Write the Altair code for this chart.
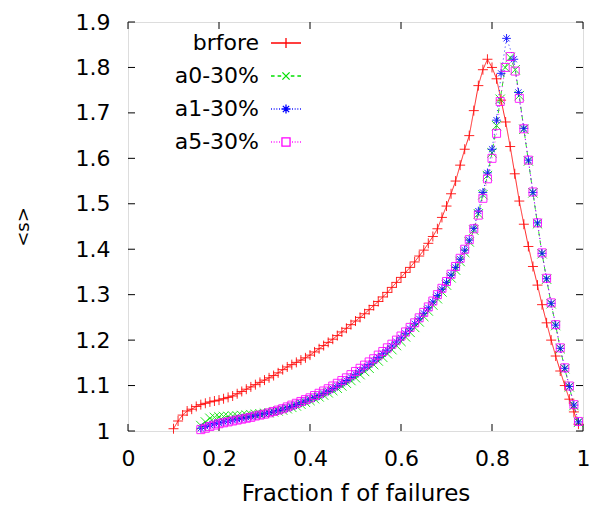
import altair as alt
import pandas as pd

# ---------------- data ----------------
series_names = ["brfore", "a0-30%", "a1-30%", "a5-30%"]

red_f = [0.10, 0.11, 0.12, 0.13, 0.14, 0.15, 0.16, 0.17, 0.18, 0.19,
         0.20, 0.21, 0.22, 0.23, 0.24, 0.25, 0.26, 0.27, 0.28, 0.29,
         0.30, 0.31, 0.32, 0.33, 0.34, 0.35, 0.36, 0.37, 0.38, 0.39,
         0.40, 0.41, 0.42, 0.43, 0.44, 0.45, 0.46, 0.47, 0.48, 0.49,
         0.50, 0.51, 0.52, 0.53, 0.54, 0.55, 0.56, 0.57, 0.58, 0.59,
         0.60, 0.61, 0.62, 0.63, 0.64, 0.65, 0.66, 0.67, 0.68, 0.69,
         0.70, 0.71, 0.72, 0.73, 0.74, 0.75, 0.76, 0.77, 0.78, 0.79,
         0.80, 0.81, 0.82, 0.83, 0.84, 0.85, 0.86, 0.87, 0.88, 0.89,
         0.90, 0.91, 0.92, 0.93, 0.94, 0.95, 0.96, 0.97, 0.98, 0.99]
red_s = [1.005, 1.022, 1.035, 1.044, 1.048, 1.054, 1.058, 1.061, 1.064, 1.066,
         1.068, 1.071, 1.074, 1.077, 1.082, 1.087, 1.092, 1.097, 1.102, 1.107,
         1.112, 1.117, 1.122, 1.128, 1.135, 1.141, 1.146, 1.151, 1.156, 1.161,
         1.167, 1.174, 1.181, 1.188, 1.195, 1.202, 1.210, 1.218, 1.226, 1.234,
         1.242, 1.250, 1.258, 1.267, 1.276, 1.285, 1.295, 1.305, 1.316, 1.327,
         1.338, 1.349, 1.360, 1.372, 1.385, 1.398, 1.413, 1.428, 1.445, 1.470,
         1.495, 1.522, 1.550, 1.585, 1.620, 1.650, 1.705, 1.760, 1.795, 1.818,
         1.800, 1.775, 1.728, 1.680, 1.626, 1.566, 1.506, 1.455, 1.406, 1.362,
         1.321, 1.278, 1.238, 1.200, 1.165, 1.132, 1.100, 1.070, 1.042, 1.015]

a0_f = [0.16, 0.17, 0.18, 0.19, 0.20, 0.21, 0.22, 0.23, 0.24, 0.25,
        0.26, 0.27, 0.28, 0.29, 0.30, 0.31, 0.32, 0.33, 0.34, 0.35,
        0.36, 0.37, 0.38, 0.39, 0.40, 0.41, 0.42, 0.43, 0.44, 0.45,
        0.46, 0.47, 0.48, 0.49, 0.50, 0.51, 0.52, 0.53, 0.54, 0.55,
        0.56, 0.57, 0.58, 0.59, 0.60, 0.61, 0.62, 0.63, 0.64, 0.65,
        0.66, 0.67, 0.68, 0.69, 0.70, 0.71, 0.72, 0.73, 0.74, 0.75,
        0.76, 0.77, 0.78, 0.79, 0.80, 0.81, 0.818, 0.829, 0.840, 0.851,
        0.86, 0.87, 0.88, 0.89, 0.90, 0.91, 0.92, 0.93, 0.94, 0.95,
        0.96, 0.97, 0.98, 0.99]
a0_s = [1.012, 1.020, 1.028, 1.030, 1.031, 1.032, 1.032, 1.033, 1.033, 1.034,
        1.035, 1.036, 1.037, 1.038, 1.039, 1.040, 1.042, 1.044, 1.046, 1.049,
        1.052, 1.055, 1.059, 1.063, 1.067, 1.071, 1.075, 1.079, 1.084, 1.089,
        1.094, 1.099, 1.105, 1.111, 1.117, 1.124, 1.131, 1.138, 1.146, 1.154,
        1.162, 1.170, 1.179, 1.188, 1.197, 1.207, 1.217, 1.228, 1.240, 1.252,
        1.264, 1.277, 1.291, 1.306, 1.321, 1.337, 1.354, 1.373, 1.393, 1.416,
        1.442, 1.478, 1.520, 1.562, 1.612, 1.672, 1.730, 1.800, 1.822, 1.795,
        1.738, 1.664, 1.594, 1.524, 1.456, 1.390, 1.334, 1.280, 1.232, 1.181,
        1.137, 1.097, 1.056, 1.019]

a1_f = [0.16, 0.17, 0.18, 0.19, 0.20, 0.21, 0.22, 0.23, 0.24, 0.25,
        0.26, 0.27, 0.28, 0.29, 0.30, 0.31, 0.32, 0.33, 0.34, 0.35,
        0.36, 0.37, 0.38, 0.39, 0.40, 0.41, 0.42, 0.43, 0.44, 0.45,
        0.46, 0.47, 0.48, 0.49, 0.50, 0.51, 0.52, 0.53, 0.54, 0.55,
        0.56, 0.57, 0.58, 0.59, 0.60, 0.61, 0.62, 0.63, 0.64, 0.65,
        0.66, 0.67, 0.68, 0.69, 0.70, 0.71, 0.72, 0.73, 0.74, 0.75,
        0.76, 0.77, 0.78, 0.79, 0.80, 0.81, 0.82, 0.832, 0.848, 0.858,
        0.87, 0.88, 0.89, 0.90, 0.91, 0.92, 0.93, 0.94, 0.95, 0.96,
        0.97, 0.98, 0.99]
a1_s = [1.006, 1.010, 1.013, 1.016, 1.018, 1.020, 1.022, 1.024, 1.026, 1.028,
        1.030, 1.032, 1.034, 1.036, 1.038, 1.040, 1.042, 1.045, 1.048, 1.051,
        1.054, 1.058, 1.062, 1.066, 1.070, 1.074, 1.078, 1.083, 1.088, 1.093,
        1.099, 1.105, 1.111, 1.118, 1.125, 1.132, 1.139, 1.146, 1.154, 1.162,
        1.170, 1.178, 1.187, 1.196, 1.205, 1.215, 1.225, 1.236, 1.247, 1.259,
        1.271, 1.284, 1.298, 1.312, 1.327, 1.343, 1.360, 1.378, 1.398, 1.420,
        1.446, 1.484, 1.525, 1.568, 1.620, 1.684, 1.787, 1.864, 1.818, 1.745,
        1.666, 1.596, 1.525, 1.458, 1.391, 1.335, 1.281, 1.233, 1.182, 1.138,
        1.098, 1.057, 1.020]

a5_f = [0.16, 0.17, 0.18, 0.19, 0.20, 0.21, 0.22, 0.23, 0.24, 0.25,
        0.26, 0.27, 0.28, 0.29, 0.30, 0.31, 0.32, 0.33, 0.34, 0.35,
        0.36, 0.37, 0.38, 0.39, 0.40, 0.41, 0.42, 0.43, 0.44, 0.45,
        0.46, 0.47, 0.48, 0.49, 0.50, 0.51, 0.52, 0.53, 0.54, 0.55,
        0.56, 0.57, 0.58, 0.59, 0.60, 0.61, 0.62, 0.63, 0.64, 0.65,
        0.66, 0.67, 0.68, 0.69, 0.70, 0.71, 0.72, 0.73, 0.74, 0.75,
        0.76, 0.77, 0.78, 0.79, 0.80, 0.81, 0.818, 0.829, 0.840, 0.851,
        0.86, 0.87, 0.88, 0.89, 0.90, 0.91, 0.92, 0.93, 0.94, 0.95,
        0.96, 0.97, 0.98, 0.99]
a5_s = [1.003, 1.006, 1.010, 1.013, 1.016, 1.018, 1.020, 1.022, 1.024, 1.026,
        1.028, 1.030, 1.033, 1.035, 1.037, 1.040, 1.043, 1.046, 1.049, 1.053,
        1.057, 1.061, 1.065, 1.069, 1.073, 1.078, 1.083, 1.088, 1.093, 1.099,
        1.105, 1.111, 1.117, 1.124, 1.131, 1.138, 1.145, 1.152, 1.159, 1.167,
        1.175, 1.183, 1.191, 1.200, 1.209, 1.218, 1.228, 1.238, 1.249, 1.261,
        1.273, 1.286, 1.300, 1.314, 1.329, 1.345, 1.362, 1.380, 1.400, 1.421,
        1.445, 1.475, 1.512, 1.555, 1.600, 1.655, 1.725, 1.800, 1.824, 1.792,
        1.732, 1.665, 1.596, 1.526, 1.458, 1.392, 1.336, 1.282, 1.234, 1.183,
        1.139, 1.099, 1.058, 1.021]

x_ticks = [0, 0.2, 0.4, 0.6, 0.8, 1]
y_ticks = [1, 1.1, 1.2, 1.3, 1.4, 1.5, 1.6, 1.7, 1.8, 1.9]

# ---------------- styles ----------------
colors = ["#ff0000", "#00e000", "#0000ff", "#ff00ff"]
dashes = [[1, 0], [5, 4], [1, 3], [1, 3]]
marker_paths = [
    "M-1,0H1M0,-1V1",
    "M-1,-1L1,1M-1,1L1,-1",
    "M-1,0H1M0,-1V1M-0.7,-0.7L0.7,0.7M-0.7,0.7L0.7,-0.7",
    "square",
]
marker_sizes = [100, 64, 100, 72]
dots = "M-1,0H-0.94M-0.82,0H-0.76M-0.64,0H-0.58M-0.46,0H-0.4M0.4,0H0.46M0.58,0H0.64M0.76,0H0.82M0.94,0H1"
legend_paths = [
    "M-1,0H1M0,-0.33V0.33",
    "M-1,0H-0.76M-0.56,0H-0.32M0.32,0H0.56M0.76,0H1M-0.24,-0.24L0.24,0.24M-0.24,0.24L0.24,-0.24",
    dots + "M-0.3,0H0.3M0,-0.3V0.3M-0.21,-0.21L0.21,0.21M-0.21,0.21L0.21,-0.21",
    dots + "M-0.27,-0.27H0.27V0.27H-0.27Z",
]

W, H = 455, 409
FONT = "DejaVu Sans"

rows = []
for name, fs, ss in zip(series_names, [red_f, a0_f, a1_f, a5_f], [red_s, a0_s, a1_s, a5_s]):
    for f, s in zip(fs, ss):
        rows.append({"series": name, "f": f, "s": s})
df = pd.DataFrame(rows)

xt = pd.DataFrame({"f": x_ticks})
yt = pd.DataFrame({"s": y_ticks})

xscale = alt.Scale(domain=[0, 1], nice=False, zero=False)
yscale = alt.Scale(domain=[1, 1.9], nice=False, zero=False)

x_axis = alt.Axis(
    values=x_ticks, format="~g", title="Fraction f of failures", grid=False, ticks=False,
    tickSize=0, domain=False, labelFont=FONT, labelFontSize=22, labelColor="black",
    labelPadding=17, labelFlush=False, labelOverlap=False, titleFont=FONT, titleFontSize=23,
    titleFontWeight="normal", titleColor="black", titleX=227.5, titleY=69,
    titleBaseline="alphabetic", titleAlign="center",
)
y_axis = alt.Axis(
    values=y_ticks, format="~g", title="<s>", grid=False, ticks=False, tickSize=0,
    domain=False, labelFont=FONT, labelFontSize=22, labelColor="black", labelPadding=18,
    labelFlush=False, labelOverlap=False, titleFont=FONT, titleFontSize=18,
    titleFontWeight="normal", titleColor="black", titleAngle=270, titleX=-100,
    titleY=H / 2, titleBaseline="alphabetic", titleAlign="center",
)

X = alt.X("f:Q", scale=xscale, axis=x_axis, title="Fraction f of failures")
Y = alt.Y("s:Q", scale=yscale, axis=y_axis, title="<s>")

color_enc = alt.Color("series:N", scale=alt.Scale(domain=series_names, range=colors), legend=None)

lines = alt.Chart(df).mark_line(strokeWidth=1, opacity=0.85, clip=False).encode(
    x=X, y=Y,
    color=color_enc,
    strokeDash=alt.StrokeDash("series:N", scale=alt.Scale(domain=series_names, range=dashes), legend=None),
)

points = alt.Chart(df).mark_point(filled=False, strokeWidth=1, opacity=0.85).encode(
    x=X, y=Y,
    color=color_enc,
    shape=alt.Shape("series:N", scale=alt.Scale(domain=series_names, range=marker_paths), legend=None),
    size=alt.Size("series:N", scale=alt.Scale(domain=series_names, range=marker_sizes), legend=None),
)

leg = alt.Legend(
    orient="none", legendX=142, legendY=5, title=None, labelAlign="right",
    labelOffset={"expr": "-43"},
    labelFont=FONT, labelFontSize=22, labelColor="black", symbolSize=900,
    symbolStrokeWidth=1.3, symbolOpacity=1, rowPadding=6, padding=0, labelLimit=300,
)
legend_layer = alt.Chart(df).transform_filter("false").mark_point(filled=False, strokeWidth=1.3).encode(
    x=X, y=Y,
    shape=alt.Shape("series:N", scale=alt.Scale(domain=series_names, range=legend_paths), legend=leg),
    color=alt.Color("series:N", scale=alt.Scale(domain=series_names, range=colors), legend=leg),
)

tick_len = 7
bottom_ticks = alt.Chart(xt).mark_rule(color="black", strokeWidth=1).encode(
    x=X, y=alt.value(H), y2=alt.value(H - tick_len))
top_ticks = alt.Chart(xt).mark_rule(color="black", strokeWidth=1).encode(
    x=X, y=alt.value(0), y2=alt.value(tick_len))
left_ticks = alt.Chart(yt).mark_rule(color="black", strokeWidth=1).encode(
    y=Y, x=alt.value(0), x2=alt.value(tick_len))
right_ticks = alt.Chart(yt).mark_rule(color="black", strokeWidth=1).encode(
    y=Y, x=alt.value(W), x2=alt.value(W - tick_len))

data_layers = alt.layer(lines, points)

chart = alt.layer(
    bottom_ticks, top_ticks, left_ticks, right_ticks, data_layers, legend_layer
).resolve_scale(
    shape="independent", color="independent"
).properties(
    width=W, height=H,
    autosize=alt.AutoSizeParams(type="none"),
    padding={"left": 128, "top": 22, "right": 7, "bottom": 77},
).configure_view(
    stroke="black", strokeWidth=1
).configure(background="white")

chart.save("out.html", embed_options={"renderer": "svg", "actions": False})
